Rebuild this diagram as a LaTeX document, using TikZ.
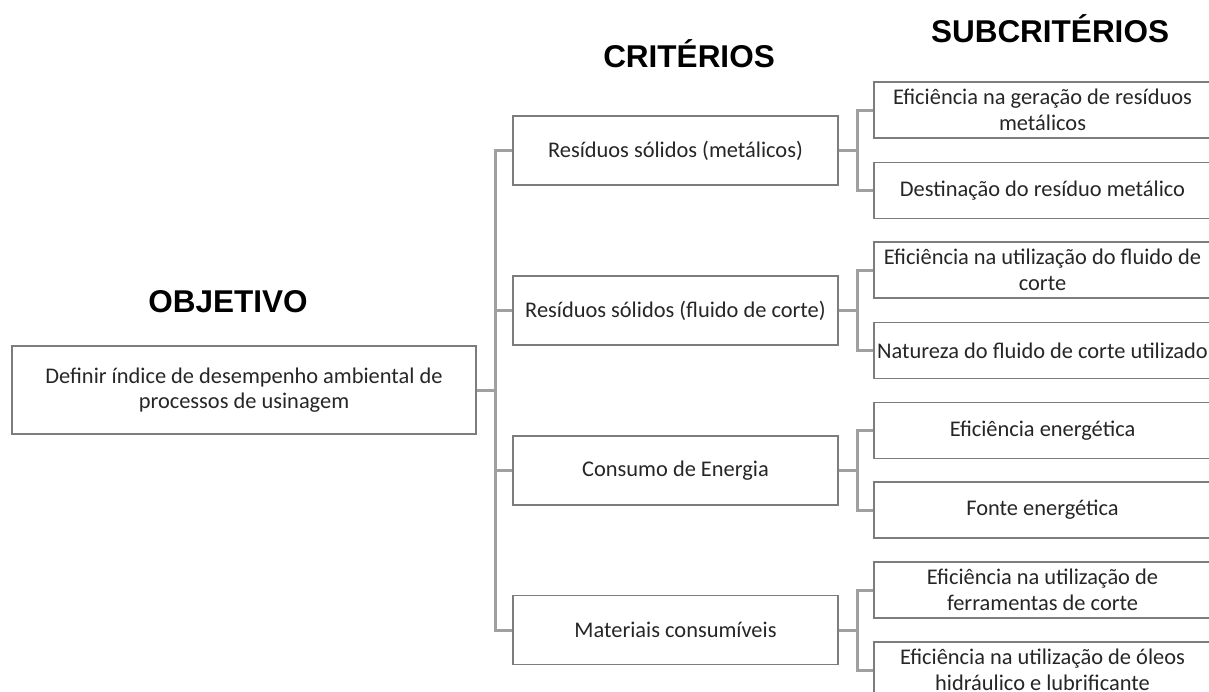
\documentclass[tikz,border=0pt]{standalone}
\usepackage{fontspec}
\setmainfont{Carlito}
\newfontfamily\titlefont{Liberation Sans}
\definecolor{boxline}{RGB}{125,125,125}
\definecolor{connline}{RGB}{160,160,160}
\definecolor{txt}{RGB}{38,38,38}
\begin{document}
\begin{tikzpicture}[x=1pt,y=-1pt,
  box/.style={draw=boxline, line width=1.4pt, fill=white, rectangle, inner sep=0pt,
    align=center, text=txt, font=\fontsize{22.4}{25.5}\selectfont},
  objbox/.style={box, minimum width=464pt, minimum height=88pt},
  critbox/.style={box, minimum width=325pt, minimum height=69pt},
  subbox/.style={box, minimum width=337pt, minimum height=56pt},
  conn/.style={draw=connline, line width=3pt},
  title/.style={font=\titlefont\bfseries\fontsize{31.5}{36}\selectfont, anchor=base, text=black, inner sep=0pt}]
\useasboundingbox (0,0) rectangle (1209,691);
\clip (0,0) rectangle (1209,691);
\fill[white] (0,0) rectangle (1209,691);

% titles
\node[title] (tobj) at (228,312) {OBJETIVO};
\node[title] (tcrit) at (689,67) {CRITÉRIOS};
\node[title] (tsub) at (1050,42) {SUBCRITÉRIOS};

% objective
\node[objbox] (obj) at (244,390) {Definir índice de desempenho ambiental de\\processos de usinagem};

% criteria
\node[critbox] (c1) at (675.5,150.5) {Resíduos sólidos (metálicos)};
\node[critbox] (c2) at (675.5,310.5) {Resíduos sólidos (fluido de corte)};
\node[critbox] (c3) at (675.5,470.5) {Consumo de Energia};
\node[critbox] (c4) at (675.5,630) {Materiais consumíveis};

% subcriteria
\node[subbox] (s1a) at (1042.5,110) {Eficiência na geração de resíduos\\metálicos};
\node[subbox] (s1b) at (1042.5,190.5) {Destinação do resíduo metálico};
\node[subbox] (s2a) at (1042.5,270) {Eficiência na utilização do fluido de\\corte};
\node[subbox] (s2b) at (1042.5,350.5) {Natureza do fluido de corte utilizado};
\node[subbox] (s3a) at (1042.5,430.5) {Eficiência energética};
\node[subbox] (s3b) at (1042.5,510) {Fonte energética};
\node[subbox] (s4a) at (1042.5,590) {Eficiência na utilização de\\ferramentas de corte};
\node[subbox] (s4b) at (1042.5,670) {Eficiência na utilização de óleos\\hidráulico e lubrificante};

% connectors objective -> criteria
\coordinate (trunk) at (495,0);
\draw[conn] (obj.east) -- (trunk |- obj.east);
\draw[conn] (c1.west) -- (trunk |- c1.west) -- (trunk |- c4.west) -- (c4.west);
\draw[conn] (c2.west) -- (trunk |- c2.west);
\draw[conn] (c3.west) -- (trunk |- c3.west);

% connectors criteria -> subcriteria
\coordinate (st) at (857,0);
\foreach \c/\a/\b in {c1/s1a/s1b, c2/s2a/s2b, c3/s3a/s3b, c4/s4a/s4b}{
  \draw[conn] (\c.east) -- (st |- \c.east);
  \draw[conn] (\a.west) -- (st |- \a.west) -- (st |- \b.west) -- (\b.west);
}
\end{tikzpicture}
\end{document}
